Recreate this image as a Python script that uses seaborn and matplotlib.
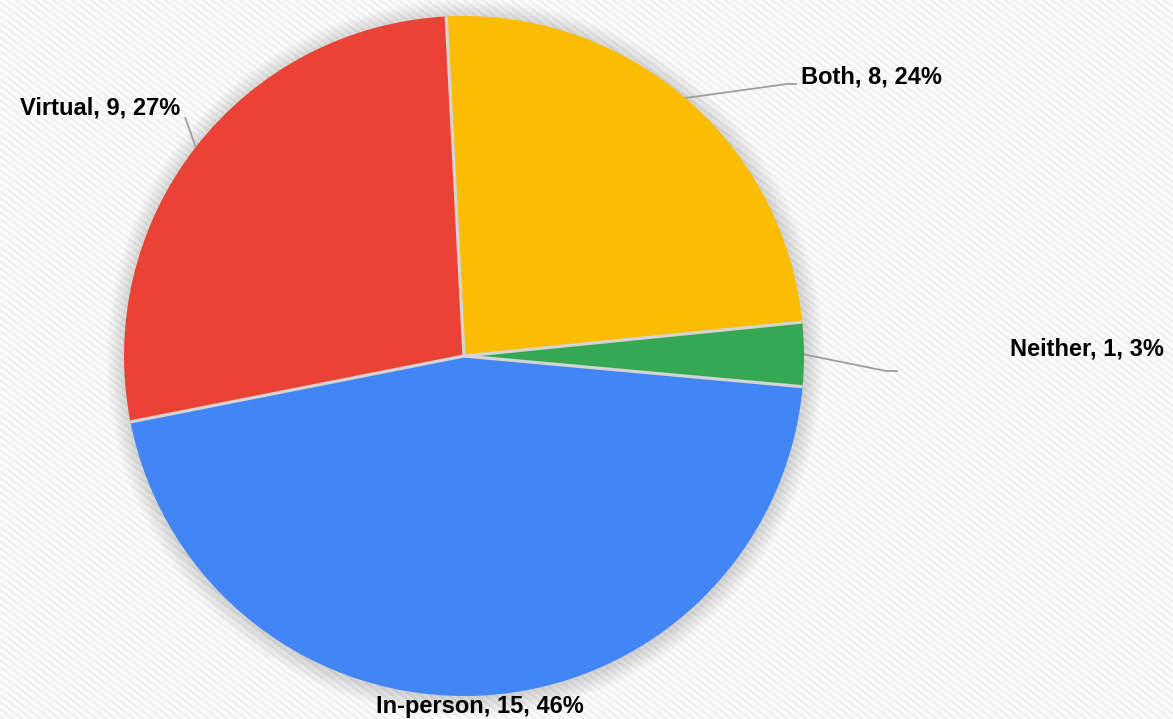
import numpy as np
import matplotlib
matplotlib.use("Agg")
import matplotlib.pyplot as plt
from matplotlib.collections import LineCollection
from matplotlib.patches import Circle
import seaborn as sns

# Survey responses: preferred meeting format
categories = ["Both", "Neither", "In-person", "Virtual"]
counts = [8, 1, 15, 9]
colors = ["#FBBC04", "#34A853", "#4285F4", "#EA4335"]

sns.set_theme(style="white")
plt.rcParams["font.family"] = ["Liberation Sans", "DejaVu Sans"]

W, H = 1173, 719
fig = plt.figure(figsize=(W / 100, H / 100), dpi=100)
fig.patch.set_facecolor("#fcfcfc")
ax = fig.add_axes([0, 0, 1, 1])

# diagonal pinstripe backdrop
period = 7.0
slope = -0.75
segs = [[(0, c), (W, c + slope * W)] for c in np.arange(-W, H + W, period)]
ax.add_collection(LineCollection(segs, colors="#efefef", linewidths=1.5, zorder=0))

cx, cy, r = 464, H - 356, 340

# soft drop shadow around the pie
for k in range(1, 20):
    ax.add_patch(Circle((cx + 1, cy - 2), r + k, facecolor="#000000",
                        alpha=0.009, edgecolor="none", zorder=1))

wedges, _ = ax.pie(
    counts, colors=colors, startangle=93, counterclock=False,
    center=(cx, cy), radius=r, frame=True,
    wedgeprops=dict(edgecolor="none", zorder=2),
)
ax.set_xlim(0, W)
ax.set_ylim(0, H)
ax.axis("off")

# light separators between slices
for w in wedges:
    t = np.deg2rad(w.theta1)
    ax.plot([cx, cx + r * np.cos(t)], [cy, cy + r * np.sin(t)],
            color="#d4d4d4", lw=2.3, zorder=3, solid_capstyle="butt")

# whole-number percentages that add up to 100 (largest remainder)
total = sum(counts)
raw = [100 * n / total for n in counts]
pcts = [int(np.floor(v)) for v in raw]
order = sorted(range(len(raw)), key=lambda i: raw[i] - pcts[i], reverse=True)
for i in order[: 100 - sum(pcts)]:
    pcts[i] += 1

# label placement per slice: (elbow, line end, text anchor, alignment)
label_layout = {
    "Both": ((787, 84), (797, 84), (801, 77), "left"),
    "Neither": ((886, 371), (898, 371), (1010, 349), "left"),
    "In-person": (None, None, (480, 706), "center"),
    "Virtual": ((185, 117), None, (180, 108), "right"),
}

for w, cat, n, pct in zip(wedges, categories, counts, pcts):
    mid = np.deg2rad((w.theta1 + w.theta2) / 2)
    anchor = (cx + r * np.cos(mid), cy + r * np.sin(mid))
    elbow, end, txt, ha = label_layout[cat]
    if elbow is not None:
        xs = [anchor[0], elbow[0]]
        ys = [anchor[1], H - elbow[1]]
        if end is not None:
            xs.append(end[0])
            ys.append(H - end[1])
        ax.plot(xs, ys, color="#9e9e9e", lw=1.3, zorder=4, solid_capstyle="butt")
    ax.text(txt[0], H - txt[1], f"{cat}, {n}, {pct}%", ha=ha, va="center",
            fontsize=17, fontweight="bold", color="#000000", zorder=5)

fig.savefig("out.png", dpi=100, facecolor=fig.get_facecolor())
